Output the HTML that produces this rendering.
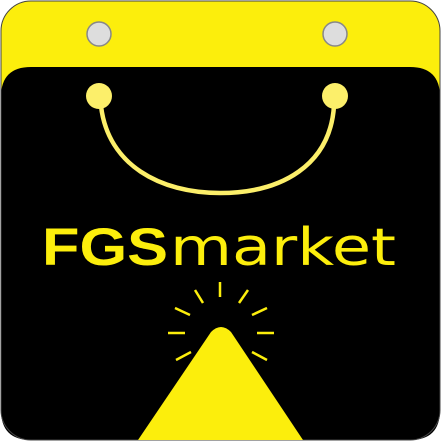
<!DOCTYPE html>
<html><head><meta charset="utf-8"><style>
html,body{margin:0;padding:0;background:#fff;width:441px;height:442px;overflow:hidden}
svg{display:block}
</style></head><body>
<svg width="441" height="442" viewBox="0 0 441 442">
  <rect x="1" y="1" width="439" height="439" rx="30" fill="#fcee0c"/>
  <path d="M1,97 Q1,67 31,67 L410,67 Q440,67 440,97 L440,410 Q440,440 410,440 L31,440 Q1,440 1,410 Z" fill="#000"/>
  <rect x="1" y="1" width="439" height="439" rx="30" fill="none" stroke="#444" stroke-width="1"/>
  <circle cx="99" cy="34" r="12" fill="#ddd" stroke="#888" stroke-width="1.5"/>
  <circle cx="335" cy="34" r="12" fill="#ddd" stroke="#888" stroke-width="1.5"/>
  <path d="M101,106 C108,165 160,193 220,193 C282,193 330,165 334,106" fill="none" stroke="#fcef6a" stroke-width="4.5"/>
  <circle cx="99" cy="96" r="13" fill="#fcef6a"/>
  <circle cx="335" cy="96" r="13" fill="#fcef6a"/>
  <text x="42" y="265" font-family="Liberation Sans, sans-serif" font-weight="bold" font-size="53" fill="#fcee0c" textLength="126" lengthAdjust="spacingAndGlyphs">FGS</text>
  <text x="170" y="265" font-family="DejaVu Sans, sans-serif" font-size="52" fill="#fcee0c" textLength="226" lengthAdjust="spacingAndGlyphs">market</text>
  <g stroke="#fcee0c" stroke-width="2.5">
    <line x1="220" y1="282" x2="220" y2="297"/>
    <line x1="195" y1="290" x2="203" y2="303"/>
    <line x1="248" y1="290" x2="239" y2="303"/>
    <line x1="175" y1="308" x2="190" y2="315"/>
    <line x1="267" y1="308" x2="252" y2="315"/>
    <line x1="168" y1="333" x2="185" y2="333"/>
    <line x1="257" y1="333" x2="274" y2="333"/>
    <line x1="176" y1="360" x2="191" y2="352"/>
    <line x1="267" y1="360" x2="252" y2="352"/>
  </g>
  <path d="M138,440 L211,332 Q221,322 231,332 L303,440 Z" fill="#fcee0c"/>
</svg>
</body></html>
